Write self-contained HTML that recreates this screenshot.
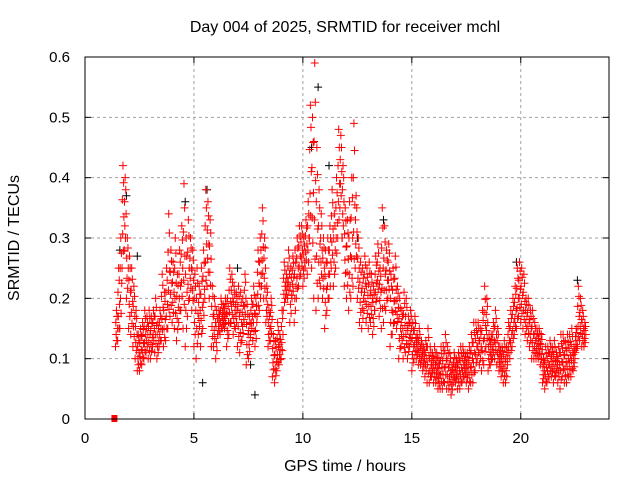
<!DOCTYPE html>
<html><head><meta charset="utf-8">
<style>
body{margin:0;background:#fff;}
svg{display:block;font-family:"Liberation Sans",sans-serif;}
</style></head>
<body>
<svg id="chart" width="640" height="480" viewBox="0 0 640 480" xmlns="http://www.w3.org/2000/svg">
<rect width="640" height="480" fill="#fff"/>
<text x="345" y="32" font-size="16" text-anchor="middle">Day 004 of 2025, SRMTID for receiver mchl</text>
<g id="grid"></g>
<g id="marks"></g>
<rect x="85" y="57" width="524" height="362" fill="none" stroke="#000" stroke-width="1"/>
<g id="axes"></g>
<text x="345" y="471" font-size="16" text-anchor="middle">GPS time / hours</text>
<text x="19" y="238" font-size="16" text-anchor="middle" transform="rotate(-90 19 238)">SRMTID / TECUs</text>
</svg>
<script>
const xTicks=[0,5,10,15,20];
const yTicks=[0,0.1,0.2,0.3,0.4,0.5,0.6];
const yTickLabels=["0","0.1","0.2","0.3","0.4","0.5","0.6"];
const startHour=1.4, stepHour=0.1;
const lowValues=[0.12,0.13,0.15,0.25,0.28,0.20,
0.15,0.14,0.12,0.1,0.08,0.08,0.09,0.1,0.11,0.1,
0.1,0.12,0.11,0.1,0.12,0.13,0.12,0.13,0.15,0.17,
0.16,0.15,0.13,0.16,0.18,0.15,0.12,0.17,0.2,0.18,
0.12,0.1,0.14,0.12,0.15,0.2,0.22,0.2,0.12,0.12,
0.1,0.14,0.14,0.15,0.15,0.12,0.14,0.16,0.14,0.15,
0.12,0.11,0.13,0.16,0.09,0.1,0.14,0.13,0.12,0.17,
0.18,0.22,0.2,0.16,0.12,0.13,0.07,0.06,0.08,0.09,
0.1,0.18,0.2,0.2,0.16,0.2,0.16,0.2,0.22,0.24,
0.22,0.25,0.24,0.3,0.25,0.2,0.18,0.2,0.22,0.2,
0.15,0.18,0.2,0.25,0.22,0.25,0.3,0.35,0.3,0.22,
0.2,0.18,0.2,0.22,0.25,0.2,0.16,0.15,0.18,0.16,
0.15,0.16,0.14,0.18,0.2,0.17,0.15,0.16,0.18,0.2,
0.12,0.14,0.16,0.15,0.1,0.12,0.1,0.11,0.1,0.12,
0.08,0.1,0.1,0.09,0.09,0.08,0.07,0.06,0.06,0.07,
0.06,0.06,0.05,0.05,0.05,0.06,0.05,0.05,0.04,0.06,
0.06,0.05,0.05,0.06,0.07,0.06,0.05,0.06,0.06,0.08,
0.1,0.09,0.08,0.09,0.12,0.08,0.09,0.1,0.1,0.09,
0.08,0.07,0.06,0.06,0.1,0.1,0.12,0.14,0.15,0.17,
0.16,0.15,0.14,0.13,0.12,0.1,0.1,0.1,0.1,0.09,
0.06,0.05,0.06,0.07,0.07,0.06,0.07,0.06,0.05,0.07,
0.06,0.06,0.07,0.07,0.08,0.11,0.12,0.13,0.12,0.12];
const highValues=[0.18,0.25,0.3,0.42,0.40,0.30,
0.27,0.25,0.22,0.18,0.14,0.15,0.16,0.18,0.17,0.18,
0.17,0.18,0.2,0.16,0.18,0.24,0.21,0.25,0.34,0.28,
0.26,0.3,0.24,0.28,0.32,0.39,0.3,0.33,0.3,0.28,
0.24,0.25,0.22,0.25,0.28,0.38,0.36,0.33,0.22,0.2,
0.18,0.18,0.2,0.19,0.2,0.2,0.25,0.24,0.22,0.21,
0.22,0.21,0.2,0.24,0.19,0.17,0.2,0.22,0.2,0.28,
0.3,0.35,0.3,0.22,0.18,0.2,0.14,0.13,0.16,0.14,
0.18,0.26,0.24,0.28,0.25,0.27,0.28,0.3,0.32,0.32,
0.3,0.33,0.36,0.52,0.5,0.59,0.45,0.38,0.34,0.3,
0.28,0.3,0.32,0.38,0.34,0.4,0.48,0.47,0.42,0.35,
0.33,0.36,0.4,0.49,0.37,0.3,0.26,0.25,0.27,0.25,
0.26,0.24,0.22,0.27,0.29,0.25,0.35,0.32,0.28,0.29,
0.24,0.25,0.27,0.22,0.2,0.18,0.21,0.2,0.17,0.18,
0.16,0.17,0.14,0.15,0.13,0.12,0.13,0.15,0.12,0.11,
0.12,0.11,0.1,0.12,0.12,0.14,0.12,0.11,0.09,0.11,
0.1,0.11,0.12,0.12,0.11,0.11,0.12,0.14,0.16,0.16,
0.16,0.15,0.18,0.22,0.2,0.14,0.14,0.16,0.18,0.15,
0.12,0.12,0.13,0.12,0.16,0.18,0.2,0.22,0.25,0.26,
0.25,0.24,0.2,0.2,0.18,0.18,0.16,0.15,0.15,0.14,
0.1,0.12,0.12,0.13,0.12,0.13,0.11,0.12,0.14,0.14,
0.13,0.14,0.14,0.15,0.12,0.15,0.22,0.2,0.18,0.16];
const blackHours=[1.6,1.9,2.4,4.6,5.6,7.0,7.8,10.4,10.7,11.2,11.8,12.5,13.7,19.8,22.6,5.4,7.6];
const blackValues=[0.28,0.37,0.27,0.36,0.38,0.25,0.04,0.45,0.55,0.42,0.3,0.3,0.33,0.26,0.23,0.06,0.09];
const squareHour=1.35, squareValue=0;

const NS="http://www.w3.org/2000/svg";
const L=85,R=609,T=57,B=419,XMAX=24.05,YMAX=0.6;
function xs(h){return L+h/XMAX*(R-L);}
function ys(v){return B-v/YMAX*(B-T);}
const grid=document.getElementById('grid'),axes=document.getElementById('axes'),marks=document.getElementById('marks');
function mk(tag,attrs,parent){const e=document.createElementNS(NS,tag);for(const k in attrs)e.setAttribute(k,attrs[k]);parent.appendChild(e);return e;}
xTicks.forEach(t=>{
  const x=xs(t);
  if(t>0){const g=mk('line',{x1:x,x2:x,y1:T,y2:B,stroke:'#a0a0a0','stroke-dasharray':'3,3'},grid);
  
  }
  mk('line',{x1:x,x2:x,y1:B,y2:B-6,stroke:'#000'},axes);
  mk('line',{x1:x,x2:x,y1:T,y2:T+6,stroke:'#000'},axes);
  const tx=mk('text',{x:x,y:443,'font-size':15,'text-anchor':'middle'},axes);
  tx.textContent=t;
  
  
});
yTicks.forEach((t,i)=>{
  const y=ys(t);
  if(t>0&&t<0.6){const g=mk('line',{x1:L,x2:R,y1:y,y2:y,stroke:'#a0a0a0','stroke-dasharray':'3,3'},grid);
  
  }
  mk('line',{x1:L,x2:L+6,y1:y,y2:y,stroke:'#000'},axes);
  mk('line',{x1:R,x2:R-6,y1:y,y2:y,stroke:'#000'},axes);
  const tx=mk('text',{x:70,y:y+5,'font-size':15,'text-anchor':'end'},axes);
  tx.textContent=yTickLabels[i];
  
  
});
function plus(x,y,color){
  const p=mk('path',{d:`M${x-4} ${y}h8M${x} ${y-4}v8`,stroke:color,'stroke-width':1,fill:'none'},marks);
  
  
}
blackHours.forEach((h,i)=>plus(xs(h),ys(blackValues[i]),'#000'));
const N=7,order=[0,4,2,6,1,5,3];
lowValues.forEach((lo,i)=>{
  const hi=highValues[i],h0=startHour+i*stepHour;
  for(let k=0;k<N;k++){
    const v=lo+(hi-lo)*order[k]/(N-1);
    plus(xs(h0+stepHour*k/N),ys(v),'#f00');
  }
});
const sq=mk('rect',{x:xs(squareHour)-3,y:ys(squareValue)-4,width:6,height:7,fill:'#f00'},marks);


</script>
</body></html>
